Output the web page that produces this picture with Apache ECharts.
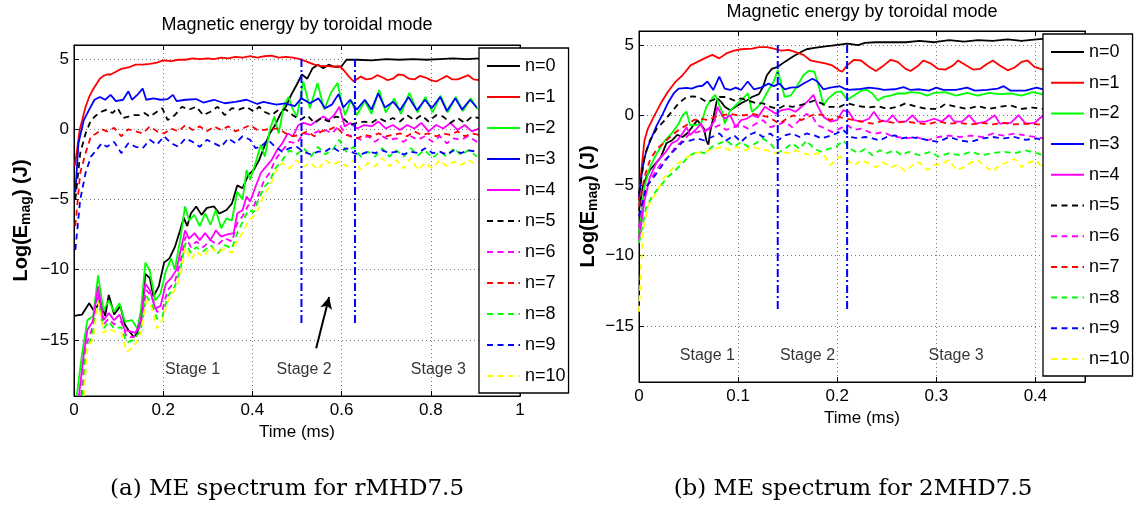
<!DOCTYPE html>
<html>
<head>
<meta charset="utf-8">
<title>ME spectrum</title>
<script src="https://cdn.jsdelivr.net/npm/echarts@6/dist/echarts.min.js"></script>
<style>
  html, body { margin: 0; padding: 0; background: #fff; }
  #chart { width: 1141px; height: 508px; }
</style>
</head>
<body>
<div id="chart"></div>
<script>
// --- rMHD7.5 (left panel): [time ms, log(E_mag)] ---
const rmhdN0 = [[0,-13.3],[0.018,-13.2],[0.034,-12.4],[0.046,-13.0],[0.058,-12.2],[0.07,-13.3],[0.078,-11.8],[0.09,-13.2],[0.104,-12.6],[0.114,-13.9],[0.122,-14.3],[0.134,-14.8],[0.142,-14.5],[0.15,-13.6],[0.16,-10.3],[0.17,-10.6],[0.178,-11.9],[0.19,-11.2],[0.202,-9.5],[0.214,-9.2],[0.226,-8.4],[0.238,-7.2],[0.246,-6.3],[0.254,-6.9],[0.262,-6.0],[0.274,-5.5],[0.286,-6.1],[0.298,-5.6],[0.314,-5.5],[0.326,-6.0],[0.342,-5.75],[0.354,-5.3],[0.366,-4.0],[0.378,-4.2],[0.391,-3.25],[0.403,-2.9],[0.415,-2.2],[0.427,-1.2],[0.439,-0.3],[0.451,0.3],[0.463,1.1],[0.475,1.6],[0.487,2.45],[0.499,3.15],[0.511,3.9],[0.523,3.6],[0.535,4.35],[0.547,4.6],[0.559,4.35],[0.571,4.6],[0.583,4.45],[0.599,4.45],[0.611,4.95],[0.635,4.95],[0.667,4.9],[0.7,5.0],[0.73,4.95],[0.76,5.0],[0.79,4.95],[0.82,5.0],[0.85,5.05],[0.88,5.0],[0.91,5.05]];
const rmhdN1 = [[0.002,-2.6],[0.008,-1.2],[0.013,0],[0.018,0.6],[0.026,1.6],[0.034,2.3],[0.042,2.8],[0.05,3.2],[0.058,3.6],[0.066,3.8],[0.074,3.9],[0.082,3.9],[0.094,4.1],[0.106,4.3],[0.122,4.4],[0.138,4.6],[0.154,4.6],[0.17,4.65],[0.186,4.75],[0.2,4.9],[0.218,4.85],[0.234,4.95],[0.25,4.95],[0.266,5.05],[0.282,5.0],[0.3,5.05],[0.314,5.0],[0.33,5.1],[0.346,5.05],[0.362,5.15],[0.378,5.1],[0.395,5.2],[0.411,5.1],[0.427,5.2],[0.443,5.25],[0.459,5.1],[0.475,5.15],[0.491,5.1],[0.507,5.0],[0.523,4.8],[0.539,4.6],[0.555,4.5],[0.571,4.5],[0.583,4.45],[0.595,4.5],[0.605,4.2],[0.615,3.8],[0.627,3.4],[0.643,3.75],[0.655,3.55],[0.667,3.6],[0.68,3.85],[0.691,3.7],[0.703,3.5],[0.715,3.6],[0.727,3.9],[0.739,3.85],[0.751,3.6],[0.763,3.55],[0.775,3.8],[0.787,3.7],[0.8,3.5],[0.812,3.4],[0.824,3.6],[0.836,3.8],[0.848,3.55],[0.86,3.55],[0.872,3.7],[0.884,3.85],[0.896,3.55],[0.908,3.5]];
const rmhdN2 = [[0.006,-19],[0.018,-16],[0.03,-13.6],[0.043,-13.3],[0.054,-10.4],[0.066,-12.9],[0.078,-12.2],[0.09,-13.0],[0.102,-12.4],[0.114,-13.7],[0.13,-13.6],[0.142,-14.2],[0.15,-12.9],[0.16,-9.5],[0.17,-10.1],[0.182,-12.2],[0.194,-11.7],[0.206,-10.1],[0.218,-9.2],[0.226,-10.0],[0.238,-7.9],[0.249,-5.5],[0.258,-6.5],[0.27,-6.1],[0.282,-6.9],[0.294,-6.0],[0.306,-6.8],[0.318,-5.75],[0.33,-7.05],[0.342,-6.35],[0.354,-6.5],[0.366,-4.45],[0.378,-5.0],[0.387,-2.9],[0.395,-3.6],[0.407,-2.4],[0.419,-1.1],[0.428,-1.95],[0.439,-0.05],[0.449,0.9],[0.459,-0.3],[0.47,1.6],[0.481,2.3],[0.491,1.4],[0.5,0.9],[0.514,3.4],[0.529,1.5],[0.546,3.3],[0.561,1.4],[0.576,2.6],[0.591,3.3],[0.6,1.9],[0.608,1.0],[0.621,2.1],[0.634,1.0],[0.652,2.0],[0.667,1.1],[0.684,2.8],[0.699,1.2],[0.718,2.2],[0.733,1.1],[0.752,2.6],[0.77,1.2],[0.788,2.3],[0.804,1.2],[0.822,2.4],[0.838,1.2],[0.856,2.3],[0.872,1.3],[0.89,2.2],[0.905,1.4]];
const rmhdN3 = [[0.003,-4.5],[0.01,-1.0],[0.022,0.65],[0.034,1.4],[0.046,2.1],[0.058,2.3],[0.07,2.1],[0.082,2.45],[0.094,2.0],[0.11,2.1],[0.122,2.7],[0.13,2.1],[0.142,2.45],[0.154,2.9],[0.162,2.1],[0.178,2.2],[0.194,2.1],[0.21,2.15],[0.222,2.45],[0.23,2.0],[0.25,2.1],[0.274,2.15],[0.29,1.9],[0.314,2.1],[0.338,1.85],[0.362,1.95],[0.387,2.1],[0.411,1.8],[0.425,1.95],[0.44,1.85],[0.454,1.75],[0.473,1.85],[0.495,1.65],[0.51,2.2],[0.529,1.85],[0.548,2.2],[0.563,1.5],[0.578,1.75],[0.593,2.5],[0.604,1.55],[0.619,2.1],[0.634,1.4],[0.652,2.1],[0.667,1.4],[0.682,2.55],[0.697,1.55],[0.716,1.95],[0.731,1.35],[0.75,2.3],[0.769,1.35],[0.787,2.1],[0.802,1.5],[0.821,2.3],[0.836,1.3],[0.855,2.2],[0.87,1.4],[0.888,2.1],[0.903,1.55]];
const rmhdN4 = [[0.011,-19],[0.022,-16],[0.03,-14.3],[0.042,-13.7],[0.054,-11.2],[0.066,-13.6],[0.078,-13.1],[0.09,-13.6],[0.102,-13.2],[0.114,-14.3],[0.126,-14.4],[0.138,-14.5],[0.15,-13.6],[0.16,-11.0],[0.17,-11.45],[0.182,-12.75],[0.194,-12.6],[0.206,-11.0],[0.218,-10.6],[0.23,-10.0],[0.238,-8.8],[0.249,-7.2],[0.258,-7.8],[0.27,-7.4],[0.282,-7.9],[0.294,-7.4],[0.306,-7.9],[0.318,-7.2],[0.33,-7.65],[0.342,-7.5],[0.358,-7.4],[0.366,-6.0],[0.378,-5.75],[0.387,-4.8],[0.395,-5.15],[0.407,-4.1],[0.419,-3.1],[0.431,-2.65],[0.443,-2.2],[0.455,-1.5],[0.467,-1.0],[0.479,-0.3],[0.491,-0.5],[0.503,0.3],[0.515,0.45],[0.531,0.3],[0.547,0.65],[0.559,0.9],[0.571,0.65],[0.583,1.0],[0.595,1.6],[0.607,0.2],[0.619,0.45],[0.635,0.05],[0.651,0.3],[0.667,0.2],[0.683,0.55],[0.699,0.05],[0.715,0.3],[0.731,-0.05],[0.747,0.3],[0.763,0.05],[0.779,0.45],[0.795,-0.15],[0.812,0.3],[0.828,0.05],[0.844,0.45],[0.86,-0.05],[0.876,0.3],[0.892,-0.15],[0.908,0.05]];
const rmhdN5 = [[0.003,-5.0],[0.014,-1.7],[0.026,-0.3],[0.038,0.65],[0.05,1.0],[0.062,1.25],[0.074,1.4],[0.086,1.15],[0.098,1.5],[0.11,0.8],[0.122,0.9],[0.134,1.0],[0.146,1.0],[0.158,1.15],[0.17,0.9],[0.186,1.25],[0.198,1.5],[0.21,0.65],[0.226,1.0],[0.242,1.6],[0.258,1.4],[0.274,1.6],[0.29,1.0],[0.306,1.25],[0.322,1.6],[0.338,1.0],[0.354,1.5],[0.37,1.4],[0.387,1.6],[0.403,1.25],[0.415,1.6],[0.427,1.25],[0.443,1.0],[0.459,1.4],[0.475,1.4],[0.491,1.0],[0.507,0.65],[0.523,1.0],[0.539,0.45],[0.555,0.8],[0.571,0.55],[0.587,0.9],[0.603,0.8],[0.619,0.3],[0.635,0.45],[0.651,0.55],[0.667,0.45],[0.683,0.8],[0.699,0.55],[0.715,0.8],[0.731,0.55],[0.747,1.0],[0.763,0.65],[0.779,1.0],[0.795,0.55],[0.812,1.0],[0.828,0.9],[0.844,0.45],[0.86,0.8],[0.876,0.45],[0.892,0.9],[0.908,0.8]];
const rmhdN6 = [[0.016,-19],[0.026,-15.5],[0.042,-14.1],[0.054,-11.7],[0.066,-13.9],[0.078,-13.5],[0.09,-13.9],[0.106,-13.7],[0.118,-14.8],[0.134,-14.8],[0.15,-13.9],[0.162,-11.45],[0.174,-11.9],[0.186,-13.0],[0.198,-12.9],[0.21,-11.45],[0.226,-10.85],[0.238,-9.55],[0.25,-7.65],[0.262,-8.4],[0.274,-8.0],[0.29,-8.4],[0.306,-7.9],[0.322,-8.25],[0.338,-7.75],[0.354,-8.0],[0.366,-6.7],[0.378,-6.2],[0.391,-5.4],[0.403,-5.5],[0.415,-4.55],[0.427,-3.6],[0.439,-3.1],[0.451,-2.2],[0.467,-1.5],[0.483,-0.9],[0.499,-1.0],[0.515,-0.3],[0.531,-0.4],[0.547,-0.15],[0.563,-0.05],[0.579,-0.3],[0.595,0.3],[0.611,-0.4],[0.627,-0.5],[0.643,-0.75],[0.659,-0.5],[0.675,-0.9],[0.691,-0.5],[0.707,-0.75],[0.723,-0.65],[0.739,-0.9],[0.755,-0.5],[0.771,-0.75],[0.787,-0.5],[0.804,-0.9],[0.82,-0.5],[0.836,-1.0],[0.852,-0.65],[0.868,-0.75],[0.884,-0.5],[0.904,-0.9]];
const rmhdN7 = [[0.003,-6.9],[0.014,-3.1],[0.026,-1.7],[0.038,-0.5],[0.05,-0.3],[0.062,0],[0.074,-0.15],[0.09,0.1],[0.106,-0.5],[0.122,0],[0.138,-0.15],[0.154,-0.3],[0.17,0.2],[0.186,-0.15],[0.202,-0.3],[0.218,0.05],[0.234,-0.15],[0.25,0.3],[0.266,-0.05],[0.282,0.2],[0.298,-0.15],[0.314,0.2],[0.33,-0.05],[0.346,0.2],[0.362,-0.15],[0.378,0.05],[0.395,0.3],[0.411,-0.05],[0.427,-0.05],[0.443,0.05],[0.459,0.05],[0.475,-0.3],[0.491,-0.5],[0.507,-0.4],[0.523,-0.15],[0.539,-0.5],[0.555,-0.15],[0.571,-0.05],[0.587,0.2],[0.603,-0.3],[0.619,-0.5],[0.635,-0.65],[0.651,-0.4],[0.667,-0.5],[0.683,-0.3],[0.699,-0.5],[0.715,-0.4],[0.731,-0.3],[0.747,-0.5],[0.763,-0.15],[0.779,-0.4],[0.795,-0.3],[0.812,-0.5],[0.828,-0.3],[0.844,-0.4],[0.86,-0.15],[0.876,-0.5],[0.892,-0.3],[0.908,-0.4]];
const rmhdN8 = [[0.019,-19],[0.026,-16],[0.042,-14.5],[0.054,-12.2],[0.066,-14.2],[0.078,-13.7],[0.09,-14.2],[0.106,-14.1],[0.118,-15.2],[0.134,-15.0],[0.15,-14.3],[0.162,-11.9],[0.174,-12.4],[0.186,-13.5],[0.198,-13.4],[0.21,-11.9],[0.226,-11.2],[0.238,-10.0],[0.25,-8.1],[0.262,-8.8],[0.274,-8.4],[0.29,-8.7],[0.306,-8.25],[0.322,-8.85],[0.338,-8.25],[0.354,-8.5],[0.366,-7.4],[0.378,-6.6],[0.391,-5.75],[0.403,-5.9],[0.415,-4.9],[0.427,-4.1],[0.439,-3.7],[0.451,-2.8],[0.467,-2.2],[0.483,-1.5],[0.499,-1.8],[0.515,-1.35],[0.531,-1.95],[0.547,-1.25],[0.563,-1.8],[0.579,-1.5],[0.595,-0.75],[0.611,-1.6],[0.627,-1.25],[0.643,-1.95],[0.659,-1.6],[0.675,-1.95],[0.691,-1.35],[0.707,-1.95],[0.723,-1.5],[0.739,-1.95],[0.755,-1.35],[0.771,-1.85],[0.787,-1.5],[0.804,-2.05],[0.82,-1.6],[0.836,-1.95],[0.852,-1.35],[0.868,-1.85],[0.884,-1.5],[0.904,-1.95]];
const rmhdN9 = [[0.003,-8.6],[0.014,-5.0],[0.026,-3.1],[0.038,-1.95],[0.05,-1.5],[0.062,-1.0],[0.074,-1.25],[0.09,-0.9],[0.106,-1.7],[0.122,-1.0],[0.138,-1.25],[0.154,-1.35],[0.17,-0.75],[0.186,-1.1],[0.202,-0.5],[0.218,-1.0],[0.234,-1.25],[0.25,-0.65],[0.266,-0.9],[0.282,-1.25],[0.298,-0.75],[0.314,-1.0],[0.33,-1.25],[0.346,-0.65],[0.362,-1.0],[0.378,-0.5],[0.395,-0.75],[0.407,-1.35],[0.419,-1.25],[0.435,-0.75],[0.451,-1.25],[0.467,-1.6],[0.483,-1.35],[0.499,-1.25],[0.515,-1.6],[0.531,-1.8],[0.547,-1.6],[0.563,-1.6],[0.579,-1.25],[0.595,-1.6],[0.611,-1.35],[0.627,-1.7],[0.643,-1.8],[0.659,-1.6],[0.675,-1.7],[0.691,-1.5],[0.707,-1.7],[0.723,-1.6],[0.739,-1.8],[0.755,-1.6],[0.771,-1.7],[0.787,-1.35],[0.804,-1.7],[0.82,-1.6],[0.836,-1.8],[0.852,-1.5],[0.868,-1.7],[0.884,-1.5],[0.904,-1.6]];
const rmhdN10 = [[0.022,-19],[0.03,-15.5],[0.042,-15.0],[0.054,-12.3],[0.066,-14.5],[0.078,-14.2],[0.09,-14.4],[0.106,-14.5],[0.118,-15.85],[0.134,-15.5],[0.15,-14.5],[0.162,-12.2],[0.174,-12.7],[0.186,-14.2],[0.198,-13.6],[0.21,-12.3],[0.226,-11.45],[0.238,-10.5],[0.25,-8.4],[0.262,-9.3],[0.274,-8.7],[0.29,-9.1],[0.306,-8.4],[0.322,-8.8],[0.338,-8.5],[0.354,-8.8],[0.366,-7.9],[0.378,-7.4],[0.391,-6.5],[0.403,-6.2],[0.415,-5.6],[0.427,-4.6],[0.439,-4.1],[0.451,-3.1],[0.467,-2.4],[0.483,-2.8],[0.499,-2.2],[0.515,-2.65],[0.531,-2.4],[0.547,-2.9],[0.563,-2.2],[0.579,-2.55],[0.595,-2.3],[0.611,-2.65],[0.627,-2.2],[0.643,-2.9],[0.659,-2.4],[0.675,-2.65],[0.691,-2.05],[0.707,-2.65],[0.723,-2.2],[0.739,-2.8],[0.755,-2.05],[0.771,-2.9],[0.787,-2.4],[0.804,-2.8],[0.82,-2.2],[0.836,-2.65],[0.852,-2.3],[0.868,-2.55],[0.884,-2.2],[0.904,-2.55]];

// --- 2MHD7.5 (right panel) ---
const twoN0 = [[0,-6.8],[0.0037,-5.1],[0.0074,-4.4],[0.011,-3.9],[0.0166,-3.45],[0.022,-3.0],[0.0276,-2.0],[0.033,-1.8],[0.0386,-1.4],[0.044,-1.55],[0.05,-1.2],[0.055,-0.7],[0.059,-0.35],[0.0626,-0.7],[0.0655,-0.95],[0.068,-1.8],[0.07,-2.1],[0.0718,-1.2],[0.0755,0],[0.079,1.2],[0.083,0.95],[0.0865,0.6],[0.092,0.35],[0.0975,0.6],[0.103,0.85],[0.1086,1.05],[0.114,1.3],[0.121,1.5],[0.125,2.0],[0.129,2.85],[0.134,3.3],[0.14,3.45],[0.147,3.8],[0.1546,4.15],[0.162,4.45],[0.169,4.7],[0.177,4.8],[0.188,4.9],[0.199,5.0],[0.21,5.1],[0.221,5.0],[0.228,5.15],[0.239,5.2],[0.254,5.2],[0.269,5.2],[0.283,5.3],[0.298,5.2],[0.313,5.35],[0.328,5.25],[0.342,5.35],[0.357,5.3],[0.372,5.4],[0.386,5.3],[0.401,5.4],[0.41,5.45]];
const twoN1 = [[0,-6],[0.002,-4.2],[0.0055,-1.8],[0.009,-0.95],[0.015,-0.1],[0.022,0.85],[0.029,1.65],[0.037,2.4],[0.044,2.85],[0.052,3.55],[0.059,3.8],[0.066,4.05],[0.074,4.3],[0.081,4.05],[0.088,4.4],[0.096,4.6],[0.103,4.7],[0.114,4.75],[0.121,4.85],[0.129,4.85],[0.136,4.75],[0.1435,4.6],[0.151,4.65],[0.158,4.5],[0.166,4.3],[0.173,3.9],[0.18,3.8],[0.188,3.7],[0.195,3.55],[0.202,3.2],[0.205,3.1],[0.21,3.55],[0.217,3.95],[0.224,3.9],[0.232,3.45],[0.239,3.15],[0.247,3.55],[0.254,3.95],[0.261,3.8],[0.269,3.3],[0.274,3.15],[0.282,3.55],[0.287,3.9],[0.294,3.7],[0.302,3.3],[0.309,3.25],[0.317,3.55],[0.322,3.9],[0.329,3.6],[0.337,3.25],[0.344,3.3],[0.351,3.65],[0.357,3.9],[0.364,3.55],[0.372,3.2],[0.379,3.4],[0.386,3.8],[0.392,3.9],[0.399,3.45],[0.41,3.2]];
const twoN2 = [[0,-8.4],[0.0055,-5.1],[0.011,-3.7],[0.018,-2.7],[0.026,-1.8],[0.033,-1.3],[0.04,-0.6],[0.044,0],[0.048,0.25],[0.0515,-0.7],[0.057,-0.7],[0.0626,-0.6],[0.068,0.6],[0.0736,1.2],[0.077,1.45],[0.081,0.7],[0.084,0.25],[0.0865,-0.6],[0.092,0.35],[0.0975,0.7],[0.105,1.2],[0.11,1.55],[0.114,0.25],[0.12,0.6],[0.125,1.05],[0.1306,1.8],[0.136,2.4],[0.14,3.2],[0.1435,2.25],[0.147,1.3],[0.153,1.4],[0.158,1.9],[0.166,2.85],[0.171,3.15],[0.177,3.1],[0.182,1.9],[0.186,0.7],[0.191,1.2],[0.199,1.65],[0.204,1.7],[0.21,1.1],[0.217,1.4],[0.224,1.75],[0.23,1.8],[0.2355,1.55],[0.241,1.05],[0.2466,1.3],[0.254,1.4],[0.261,1.55],[0.269,1.55],[0.274,1.65],[0.283,1.6],[0.2907,1.4],[0.298,1.6],[0.309,1.65],[0.32,1.4],[0.331,1.6],[0.342,1.4],[0.353,1.6],[0.364,1.5],[0.375,1.55],[0.386,1.4],[0.397,1.65],[0.41,1.45]];
const twoN3 = [[0,-5.8],[0.0037,-3.7],[0.0074,-2.5],[0.013,-1.55],[0.018,-0.7],[0.024,0.1],[0.029,0.85],[0.035,1.55],[0.04,1.9],[0.048,1.95],[0.053,1.9],[0.059,2.05],[0.064,2.1],[0.069,2.4],[0.075,1.8],[0.081,2.75],[0.0865,1.9],[0.092,1.8],[0.0975,1.97],[0.103,1.8],[0.1097,2.4],[0.116,1.85],[0.123,1.97],[0.1306,2.25],[0.136,2.07],[0.1417,2.25],[0.147,1.85],[0.153,1.97],[0.16,2.0],[0.167,2.3],[0.175,2.6],[0.18,2.4],[0.186,1.85],[0.193,1.97],[0.2025,2.07],[0.21,1.8],[0.221,1.85],[0.232,1.97],[0.241,1.9],[0.247,1.8],[0.258,1.85],[0.267,2.0],[0.274,1.8],[0.283,1.85],[0.2925,1.75],[0.3,1.97],[0.307,1.8],[0.32,1.8],[0.331,1.97],[0.339,1.75],[0.351,1.8],[0.362,1.9],[0.368,2.07],[0.375,1.75],[0.39,1.75],[0.401,1.97],[0.41,1.8]];
const twoN4 = [[0,-8.9],[0.0055,-6.1],[0.011,-4.4],[0.018,-3.3],[0.026,-2.7],[0.033,-2.0],[0.0386,-1.8],[0.044,-1.3],[0.048,-0.85],[0.0515,-1.4],[0.057,-1.05],[0.0626,-0.6],[0.066,-1.2],[0.0718,-0.85],[0.0765,-0.35],[0.079,0.6],[0.083,0.1],[0.0865,-0.25],[0.092,0],[0.0975,-0.85],[0.103,-0.35],[0.1086,-0.25],[0.114,0],[0.12,-0.15],[0.127,0.6],[0.1325,0.35],[0.138,0.1],[0.1435,0.35],[0.151,0.45],[0.158,0.25],[0.164,0.6],[0.171,1.05],[0.176,1.45],[0.18,0.7],[0.186,-0.1],[0.193,-0.45],[0.2,-0.35],[0.206,0.35],[0.2116,0.25],[0.217,-0.35],[0.2245,-0.45],[0.232,-0.25],[0.237,0.25],[0.243,-0.35],[0.25,-0.45],[0.256,0],[0.261,-0.45],[0.269,-0.45],[0.276,0],[0.2815,-0.45],[0.289,-0.45],[0.298,-0.25],[0.3055,-0.45],[0.313,0],[0.318,-0.45],[0.326,-0.45],[0.333,0],[0.34,-0.6],[0.35,-0.45],[0.359,0],[0.364,-0.6],[0.375,-0.55],[0.383,0],[0.39,-0.6],[0.399,-0.55],[0.408,0]];
const twoN5 = [[0,-5.6],[0.0055,-3.0],[0.011,-1.8],[0.018,-0.95],[0.026,-0.35],[0.033,0.25],[0.04,0.85],[0.048,1.3],[0.055,1.35],[0.0626,1.2],[0.068,0.95],[0.0736,1.05],[0.081,1.3],[0.088,1.3],[0.096,1.05],[0.103,1.2],[0.11,1.05],[0.118,0.85],[0.125,0.85],[0.1325,0.6],[0.14,0.45],[0.147,0.7],[0.1546,0.6],[0.162,0.7],[0.169,0.85],[0.177,1.05],[0.184,0.85],[0.191,0.6],[0.2025,0.6],[0.21,0.85],[0.221,0.65],[0.232,0.55],[0.241,0.65],[0.25,0.45],[0.261,0.6],[0.269,0.85],[0.28,0.6],[0.2907,0.45],[0.302,0.45],[0.309,0.8],[0.32,0.6],[0.331,0.45],[0.342,0.65],[0.353,0.45],[0.364,0.6],[0.375,0.7],[0.386,0.45],[0.397,0.55],[0.408,0.45]];
const twoN6 = [[0,-8.0],[0.0074,-5.1],[0.015,-4.2],[0.022,-3.45],[0.029,-3.0],[0.037,-2.25],[0.044,-1.8],[0.0515,-1.3],[0.059,-1.2],[0.066,-1.05],[0.0736,-0.95],[0.081,-0.7],[0.088,-1.05],[0.096,-0.85],[0.103,-0.7],[0.11,-0.95],[0.118,-0.6],[0.125,-0.35],[0.1325,-0.85],[0.14,-0.7],[0.147,-0.45],[0.1546,-0.85],[0.162,-0.35],[0.169,0.1],[0.175,-0.1],[0.18,-0.7],[0.188,-0.95],[0.195,-1.2],[0.2025,-0.95],[0.21,-0.7],[0.217,-1.05],[0.2245,-0.95],[0.232,-1.2],[0.239,-1.3],[0.2466,-1.2],[0.254,-1.45],[0.261,-1.55],[0.269,-1.65],[0.28,-1.55],[0.2907,-1.8],[0.302,-1.55],[0.313,-1.45],[0.324,-1.55],[0.335,-1.45],[0.346,-1.55],[0.357,-1.3],[0.368,-1.45],[0.379,-1.3],[0.39,-1.45],[0.401,-1.55],[0.408,-1.65]];
const twoN7 = [[0,-6.5],[0.0055,-4.4],[0.011,-3.2],[0.018,-2.4],[0.026,-1.9],[0.033,-1.43],[0.04,-1.05],[0.048,-0.7],[0.055,-0.35],[0.0626,-0.25],[0.07,-0.35],[0.077,-0.1],[0.085,0],[0.092,0.1],[0.099,0],[0.107,0],[0.114,0.1],[0.121,0],[0.129,-0.1],[0.136,-0.35],[0.1417,-0.6],[0.149,-0.25],[0.156,0],[0.1638,-0.35],[0.171,-0.1],[0.1785,0.1],[0.186,0],[0.193,-0.35],[0.2,-0.1],[0.21,-0.25],[0.217,-0.35],[0.2245,-0.45],[0.2355,-0.6],[0.2466,-0.4],[0.2576,-0.55],[0.269,-0.45],[0.28,-0.55],[0.2907,-0.65],[0.302,-0.45],[0.313,-0.6],[0.324,-0.55],[0.335,-0.65],[0.346,-0.55],[0.357,-0.65],[0.368,-0.55],[0.379,-0.65],[0.39,-0.6],[0.401,-0.65],[0.408,-0.65]];
const twoN8 = [[0,-9.1],[0.0074,-6.5],[0.015,-5.6],[0.022,-5.0],[0.029,-4.4],[0.037,-3.9],[0.044,-3.4],[0.0515,-2.85],[0.059,-2.6],[0.066,-2.7],[0.0736,-2.25],[0.081,-2.0],[0.088,-1.8],[0.096,-2.25],[0.103,-1.9],[0.11,-2.25],[0.118,-2.0],[0.125,-1.65],[0.1325,-2.0],[0.14,-2.7],[0.147,-2.4],[0.1546,-2.0],[0.162,-2.4],[0.169,-1.8],[0.177,-2.4],[0.184,-2.6],[0.191,-2.4],[0.199,-2.25],[0.206,-1.8],[0.2135,-2.4],[0.221,-2.7],[0.228,-2.4],[0.2355,-2.85],[0.243,-2.5],[0.25,-2.7],[0.258,-2.5],[0.265,-2.85],[0.272,-2.6],[0.283,-2.85],[0.294,-2.6],[0.302,-2.95],[0.313,-2.7],[0.324,-2.85],[0.335,-2.6],[0.346,-2.85],[0.357,-2.7],[0.368,-2.6],[0.379,-2.7],[0.39,-2.5],[0.401,-2.7],[0.408,-2.85]];
const twoN9 = [[0,-7.2],[0.0074,-5.1],[0.015,-4.4],[0.022,-3.7],[0.029,-3.0],[0.037,-2.4],[0.044,-1.9],[0.0515,-1.8],[0.059,-1.65],[0.066,-1.8],[0.0736,-1.55],[0.081,-1.3],[0.088,-1.8],[0.096,-1.43],[0.103,-1.9],[0.11,-1.43],[0.118,-1.2],[0.125,-1.55],[0.1325,-1.3],[0.14,-1.8],[0.147,-1.43],[0.1546,-1.3],[0.162,-1.55],[0.169,-1.3],[0.177,-1.43],[0.184,-1.65],[0.191,-1.5],[0.199,-1.3],[0.206,-1.05],[0.2135,-1.55],[0.221,-1.65],[0.228,-1.55],[0.2355,-1.65],[0.243,-1.8],[0.25,-1.55],[0.258,-1.43],[0.265,-1.65],[0.272,-1.55],[0.283,-1.65],[0.294,-1.8],[0.302,-1.9],[0.313,-1.55],[0.324,-1.8],[0.335,-1.9],[0.346,-1.65],[0.357,-1.55],[0.368,-1.65],[0.379,-1.55],[0.39,-1.75],[0.401,-1.65],[0.408,-1.8]];
const twoN10 = [[0,-14],[0.0037,-8.4],[0.009,-6.5],[0.0166,-5.6],[0.024,-4.6],[0.031,-4.0],[0.0386,-3.45],[0.048,-3.0],[0.057,-2.7],[0.066,-2.6],[0.0755,-2.4],[0.085,-2.25],[0.092,-2.5],[0.099,-2.25],[0.107,-2.5],[0.114,-2.25],[0.121,-2.4],[0.129,-2.5],[0.136,-2.7],[0.1435,-2.6],[0.151,-2.7],[0.158,-2.5],[0.166,-2.7],[0.173,-2.85],[0.18,-2.7],[0.188,-2.95],[0.193,-3.55],[0.2025,-2.95],[0.21,-3.2],[0.217,-3.55],[0.2245,-3.2],[0.232,-3.45],[0.239,-3.7],[0.2466,-3.35],[0.254,-3.7],[0.261,-3.55],[0.269,-4.0],[0.276,-3.55],[0.283,-3.35],[0.2907,-3.9],[0.298,-3.55],[0.3055,-3.45],[0.313,-3.2],[0.32,-3.9],[0.328,-3.7],[0.335,-3.35],[0.342,-3.2],[0.35,-3.7],[0.357,-4.0],[0.364,-3.55],[0.372,-3.35],[0.379,-3.1],[0.386,-3.7],[0.394,-3.35],[0.401,-3.2],[0.408,-3.9]];

const modeNames = ['n=0','n=1','n=2','n=3','n=4','n=5','n=6','n=7','n=8','n=9','n=10'];
const modeColors = ['#000000','#ff0000','#00ff00','#0000ff','#ff00ff','#000000','#ff00ff','#ff0000','#00ff00','#0000ff','#ffff00'];
const rmhdModes = [rmhdN0, rmhdN1, rmhdN2, rmhdN3, rmhdN4, rmhdN5, rmhdN6, rmhdN7, rmhdN8, rmhdN9, rmhdN10];
const twoModes = [twoN0, twoN1, twoN2, twoN3, twoN4, twoN5, twoN6, twoN7, twoN8, twoN9, twoN10];

// axis ticks
const xTicksLeft = [0, 0.2, 0.4, 0.6, 0.8, 1];
const xTicksRight = [0, 0.1, 0.2, 0.3, 0.4];
const yTicks = [-15, -10, -5, 0, 5];

// stage markers
const stageNames = ['Stage 1', 'Stage 2', 'Stage 3'];
const stageXLeft = [0.266, 0.516, 0.817];
const stageXRight = [0.069, 0.17, 0.32];
const stageY = -17.1;
const stageLinesLeft = [0.51, 0.63];
const stageLinesRight = [0.14, 0.21];
const stageLineSpan = [5, -14];
const arrowLeft = [[0.543, -15.6], [0.572, -11.95]];

const FONT = '"Liberation Sans", Arial, sans-serif';

function fmtNum(v) {
    return v < 0 ? '\u2212' + Math.abs(v) : String(v);
}

function xAxisPair(grid, max, ticks, nameGap) {
    const tick = { inside: true, length: 5, customValues: ticks, lineStyle: { color: '#000' } };
    return [{
        gridIndex: grid, type: 'value', min: 0, max: max, position: 'bottom',
        axisLine: { onZero: false, lineStyle: { color: '#000', width: 1 } },
        axisTick: tick,
        axisLabel: { customValues: ticks, margin: 6, color: '#000', fontSize: 17, fontFamily: FONT, formatter: fmtNum },
        splitLine: { show: true, lineStyle: { color: '#777', width: 1, type: [1, 3] } },
        name: 'Time (ms)', nameLocation: 'middle', nameGap: nameGap,
        nameTextStyle: { color: '#000', fontSize: 17, fontFamily: FONT }
    }, {
        gridIndex: grid, type: 'value', min: 0, max: max, position: 'top',
        axisLine: { onZero: false, lineStyle: { color: '#000', width: 1 } },
        axisTick: tick, axisLabel: { show: false }, splitLine: { show: false }
    }];
}

function yAxisPair(grid, nameGap) {
    const tick = { inside: true, length: 5, customValues: yTicks, lineStyle: { color: '#000' } };
    return [{
        gridIndex: grid, type: 'value', min: -19, max: 6, position: 'left',
        axisLine: { onZero: false, lineStyle: { color: '#000', width: 1 } },
        axisTick: tick,
        axisLabel: { customValues: yTicks, margin: 5, color: '#000', fontSize: 17, fontFamily: FONT, formatter: fmtNum },
        splitLine: { show: true, lineStyle: { color: '#777', width: 1, type: [1, 3] } },
        name: 'Log(E{s|mag}) (J)', nameLocation: 'middle', nameGap: nameGap, nameRotate: 90,
        nameTextStyle: {
            color: '#000', fontSize: 20, fontWeight: 'bold', fontFamily: FONT,
            rich: { s: { color: '#000', fontSize: 14, fontWeight: 'bold', fontFamily: FONT, padding: [10, 0, 0, 0] } }
        }
    }, {
        gridIndex: grid, type: 'value', min: -19, max: 6, position: 'right',
        axisLine: { onZero: false, lineStyle: { color: '#000', width: 1 } },
        axisTick: tick, axisLabel: { show: false }, splitLine: { show: false }
    }];
}

function modeSeries(modes, xi, yi) {
    return modes.map((data, n) => ({
        name: modeNames[n], type: 'line', xAxisIndex: xi, yAxisIndex: yi,
        data: data, symbol: 'none', silent: true,
        lineStyle: { color: modeColors[n], width: 1.8, type: n < 5 ? 'solid' : [6, 4.5] },
        itemStyle: { color: modeColors[n] },
        emphasis: { disabled: true }
    }));
}

function stageSeries(linesX, labelsX, xi, yi, arrow) {
    const out = linesX.map(x => ({
        type: 'line', xAxisIndex: xi, yAxisIndex: yi, silent: true, symbol: 'none',
        data: stageLineSpan.map(y => [x, y]),
        lineStyle: { color: '#0000ff', width: 2, type: [8, 3, 2, 3] }
    }));
    out.push({
        type: 'scatter', xAxisIndex: xi, yAxisIndex: yi, silent: true,
        symbolSize: 1, itemStyle: { color: 'rgba(0,0,0,0)' },
        data: labelsX.map((x, i) => ({ value: [x, stageY], name: stageNames[i] })),
        label: { show: true, position: 'inside', formatter: p => p.name, color: '#000', textBorderWidth: 0, fontSize: 16, fontFamily: FONT }
    });
    if (arrow) {
        out.push({
            type: 'line', xAxisIndex: xi, yAxisIndex: yi, silent: true, data: [], symbol: 'none',
            markLine: {
                silent: true, symbol: ['none', 'arrow'], symbolSize: [9, 12],
                label: { show: false },
                lineStyle: { color: '#000', width: 2, type: 'solid' },
                data: [[{ coord: arrow[0] }, { coord: arrow[1] }]]
            }
        });
    }
    return out;
}

function legendAt(left, top, padTop, gap) {
    return {
        orient: 'vertical', left: left, top: top,
        data: modeNames, selectedMode: false,
        itemWidth: 33, itemHeight: 14, itemGap: gap,
        padding: [padTop, 3, 8, 7],
        itemStyle: { opacity: 0 },
        backgroundColor: '#fff', borderColor: '#000', borderWidth: 1.3,
        textStyle: { color: '#000', fontSize: 18, fontFamily: FONT }
    };
}

const chart = echarts.init(document.getElementById('chart'), null, { renderer: 'canvas' });

const xs = xAxisPair(0, 1, xTicksLeft, 22).concat(xAxisPair(1, 0.45, xTicksRight, 23));
const ys = yAxisPair(0, 41).concat(yAxisPair(1, 39));

chart.setOption({
    animation: false,
    backgroundColor: '#fff',
    grid: [
        { left: 74, top: 45, width: 446, height: 351, show: true, borderColor: '#000', borderWidth: 1, backgroundColor: 'transparent' },
        { left: 639, top: 31, width: 446, height: 351, show: true, borderColor: '#000', borderWidth: 1, backgroundColor: 'transparent' }
    ],
    xAxis: xs,
    yAxis: ys,
    legend: [legendAt(479, 48, 9, 13), legendAt(1043, 34, 9, 12.7)],
    series: modeSeries(rmhdModes, 0, 0)
        .concat(modeSeries(twoModes, 2, 2))
        .concat(stageSeries(stageLinesLeft, stageXLeft, 0, 0, arrowLeft))
        .concat(stageSeries(stageLinesRight, stageXRight, 2, 2, null)),
    graphic: [
        { type: 'text', x: 297, y: 25, style: { text: 'Magnetic energy by toroidal mode', font: '18px ' + FONT, fill: '#000', align: 'center', verticalAlign: 'middle' } },
        { type: 'text', x: 862, y: 12, style: { text: 'Magnetic energy by toroidal mode', font: '18px ' + FONT, fill: '#000', align: 'center', verticalAlign: 'middle' } },
        { type: 'text', x: 287, y: 489, style: { text: '(a) ME spectrum for rMHD7.5', font: '23px "DejaVu Serif", serif', fill: '#000', align: 'center', verticalAlign: 'middle' } },
        { type: 'text', x: 853, y: 489, style: { text: '(b) ME spectrum for 2MHD7.5', font: '23px "DejaVu Serif", serif', fill: '#000', align: 'center', verticalAlign: 'middle' } }
    ]
});
</script>
</body>
</html>
